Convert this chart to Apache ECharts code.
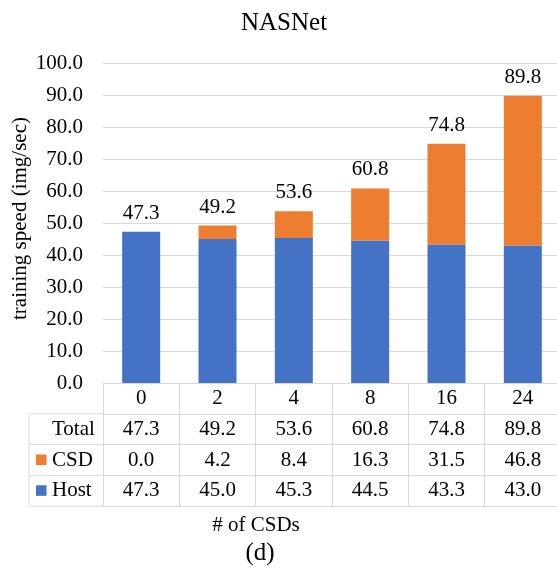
<!DOCTYPE html>
<html>
<head>
<meta charset="utf-8">
<title>NASNet training speed</title>
<script src="https://cdn.jsdelivr.net/npm/echarts@6/dist/echarts.min.js"></script>
<style>
  html, body { margin: 0; padding: 0; background: #fff; }
  #chart { width: 557px; height: 570px; }
</style>
</head>
<body>
<div id="chart"></div>
<script>
// ---- data ----
const categories = ['0', '2', '4', '8', '16', '24'];
const hostSpeed  = [47.3, 45.0, 45.3, 44.5, 43.3, 43.0];
const csdSpeed   = [0.0, 4.2, 8.4, 16.3, 31.5, 46.8];
const totalSpeed = [47.3, 49.2, 53.6, 60.8, 74.8, 89.8];
const yMin = 0, yMax = 100, yStep = 10;
const tableRowNames = ['Total', 'CSD', 'Host'];

// ---- style / layout ----
const FONT = "'Liberation Serif', 'Times New Roman', serif";
const BLUE = '#4472C4';
const ORANGE = '#ED7D31';
const LINE = '#d9d9d9';
const TEXT = '#000';
const FS = 21;
const GRID_LEFT = 103, GRID_TOP = 63, GRID_W = 458, GRID_H = 320;
const ROW_H = 30.8;
const HEAD_LEFT = 29;

const fmt = v => v.toFixed(1);
const tableRows = [
  { name: tableRowNames[0], values: totalSpeed, key: null },
  { name: tableRowNames[1], values: csdSpeed, key: ORANGE },
  { name: tableRowNames[2], values: hostSpeed, key: BLUE }
];

const chart = echarts.init(document.getElementById('chart'), null, { renderer: 'canvas' });

// category row + one axis per data-table row, stacked below the plot
const tableAxis = (data, offset, showLabel, showTick) => ({
  type: 'category',
  gridIndex: 0,
  position: 'bottom',
  offset: offset,
  data: data,
  boundaryGap: true,
  axisLine: { show: true, lineStyle: { color: LINE, width: 1 } },
  axisTick: { show: showTick, length: ROW_H, interval: 0, alignWithLabel: false,
              lineStyle: { color: LINE, width: 1 } },
  axisLabel: { show: showLabel, interval: 0, margin: 0, lineHeight: ROW_H,
               fontFamily: FONT, fontSize: FS, color: TEXT },
  splitLine: { show: false }
});

const xAxes = [tableAxis(categories, 0, true, true)];
tableRows.forEach((row, i) => {
  xAxes.push(tableAxis(row.values.map(fmt), ROW_H * (i + 1), true, true));
});
xAxes.push(tableAxis(categories, ROW_H * (tableRows.length + 1), false, false));

const option = {
  backgroundColor: '#fff',
  animation: false,
  title: {
    text: 'NASNet',
    left: 236,
    top: 6,
    textStyle: { fontFamily: FONT, fontSize: 25, fontWeight: 'normal', color: TEXT }
  },
  grid: {
    left: GRID_LEFT, top: GRID_TOP, width: GRID_W, height: GRID_H,
    containLabel: false, outerBoundsMode: 'none'
  },
  xAxis: xAxes,
  yAxis: {
    type: 'value',
    min: yMin, max: yMax, interval: yStep,
    name: 'training speed (img/sec)',
    nameLocation: 'middle',
    nameRotate: 90,
    nameGap: 72,
    nameMoveOverlap: false,
    nameTextStyle: { fontFamily: FONT, fontSize: FS, color: TEXT, padding: [0, 0, 0, 9] },
    axisLine: { show: false },
    axisTick: { show: false },
    axisLabel: { margin: 20, fontFamily: FONT, fontSize: FS, color: TEXT, formatter: v => fmt(v) },
    splitLine: { lineStyle: { color: LINE, width: 1 } }
  },
  series: [
    {
      name: 'Host', type: 'bar', stack: 'speed', barWidth: 38,
      data: hostSpeed, itemStyle: { color: BLUE }
    },
    {
      name: 'CSD', type: 'bar', stack: 'speed', barWidth: 38,
      data: csdSpeed, itemStyle: { color: ORANGE }
    },
    {
      // total per configuration, carries the value label above each stack
      name: 'Total', type: 'bar', barWidth: 38, barGap: '-100%', z: 1,
      data: totalSpeed,
      itemStyle: { color: 'rgba(0,0,0,0)' },
      label: {
        show: true, position: 'top', distance: 8,
        fontFamily: FONT, fontSize: FS, color: TEXT,
        formatter: p => fmt(p.value)
      },
      silent: true
    }
  ],
  graphic: []
};

chart.setOption(option);

// row-header column of the data table (names and legend keys)
const gridBottom = GRID_TOP + GRID_H;
const g = [];
const firstRowTop = gridBottom + ROW_H;
const lastRowBottom = gridBottom + ROW_H * (tableRows.length + 1);
for (let i = 0; i <= tableRows.length; i++) {
  const y = firstRowTop + ROW_H * i;
  g.push({ type: 'line', shape: { x1: HEAD_LEFT, y1: y, x2: GRID_LEFT, y2: y },
           style: { stroke: LINE, lineWidth: 1 }, silent: true });
}
g.push({ type: 'line', shape: { x1: HEAD_LEFT, y1: firstRowTop, x2: HEAD_LEFT, y2: lastRowBottom },
         style: { stroke: LINE, lineWidth: 1 }, silent: true });
tableRows.forEach((row, i) => {
  const cy = firstRowTop + ROW_H * i + ROW_H / 2;
  if (row.key) {
    g.push({ type: 'rect', shape: { x: 36, y: cy - 5.5, width: 10.5, height: 10.5 },
             style: { fill: row.key }, silent: true });
  }
  g.push({ type: 'text', x: 52, y: cy,
           style: { text: row.name, fontFamily: FONT, fontSize: FS, fill: TEXT,
                    align: 'left', verticalAlign: 'middle' }, silent: true });
});
g.push({ type: 'text', x: 256, y: 525,
         style: { text: '# of CSDs', fontFamily: FONT, fontSize: FS, fill: TEXT,
                  align: 'center', verticalAlign: 'middle' }, silent: true });
g.push({ type: 'text', x: 260, y: 553,
         style: { text: '(d)', fontFamily: FONT, fontSize: 25, fill: TEXT,
                  align: 'center', verticalAlign: 'middle' }, silent: true });
chart.setOption({ graphic: g });
</script>
</body>
</html>
